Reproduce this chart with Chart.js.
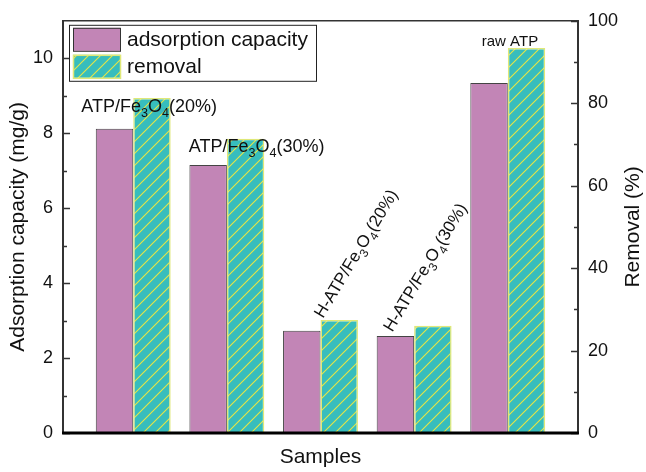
<!DOCTYPE html>
<html>
<head>
<meta charset="utf-8">
<script src="https://cdn.jsdelivr.net/npm/chart.js@4.4.1/dist/chart.umd.min.js"></script>
<style>
html, body { margin: 0; padding: 0; background: #fff; }
</style>
</head>
<body>
<canvas id="chart" width="646" height="472"></canvas>
<script>
const samples = ['ATP/Fe3O4(20%)', 'ATP/Fe3O4(30%)', 'H-ATP/Fe3O4(20%)', 'H-ATP/Fe3O4(30%)', 'raw ATP'];
const positions = [1, 2, 3, 4, 5];
const adsorption = [8.12, 7.15, 2.73, 2.59, 9.34];
const removal = [81.3, 71.4, 27.4, 26.0, 93.4];
const leftTicks = [0, 2, 4, 6, 8, 10];
const leftMinor = [1, 3, 5, 7, 9];
const rightTicks = [0, 20, 40, 60, 80, 100];
const rightMinor = [10, 30, 50, 70, 90];

const FONT = '"Liberation Sans", Arial, sans-serif';
const PURPLE = '#c285b6';
const TEAL = '#37bdbd';
const HATCH = '#e6e646';

const canvas = document.getElementById('chart');
const ctx = canvas.getContext('2d');

const hatch = (() => {
    const c = document.createElement('canvas');
    c.width = 12;
    c.height = 12;
    const g = c.getContext('2d');
    g.fillStyle = TEAL;
    g.fillRect(0, 0, 12, 12);
    g.strokeStyle = HATCH;
    g.lineWidth = 1.1;
    g.beginPath();
    g.moveTo(-2, 14); g.lineTo(14, -2);
    g.moveTo(-8, 8); g.lineTo(8, -8);
    g.moveTo(4, 20); g.lineTo(20, 4);
    g.stroke();
    return ctx.createPattern(c, 'repeat');
})();

// where each sample label sits, relative to the top of its removal bar
const labelLayout = [
    { dx: -52, dy: 14, rot: 0, size: 18 },
    { dx: -38, dy: 13, rot: 0, size: 18 },
    { dx: 2.5, dy: -1, rot: -59, size: 17 },
    { dx: -22, dy: 7, rot: -59, size: 17 },
    { dx: -26, dy: -2, rot: 0, size: 15 }
];

const toParts = label => label.split(/(?<=Fe|O)(\d)/).map((t, i) => [t, i % 2 === 1]);

const drawRich = (g, parts, x, y, size) => {
    let cx = x;
    parts.forEach(([t, sub]) => {
        const s = sub ? size * 0.7 : size;
        g.font = `${s}px ${FONT}`;
        g.fillText(t, cx, y + (sub ? size * 0.3 : 0));
        cx += g.measureText(t).width;
    });
};

const frame = {
    id: 'frame',
    afterDatasetsDraw(chart) {
        const g = chart.ctx;
        const { left, right, top, bottom } = chart.chartArea;
        const y = chart.scales.y;
        const y1 = chart.scales.y1;
        const x = chart.scales.x;
        g.save();

        // ticks, pointing inward
        g.strokeStyle = '#333';
        g.lineWidth = 1.5;
        g.beginPath();
        leftTicks.forEach(v => { const p = Math.round(y.getPixelForValue(v)) + 0.5; g.moveTo(left, p); g.lineTo(left + 7, p); });
        leftMinor.forEach(v => { const p = Math.round(y.getPixelForValue(v)) + 0.5; g.moveTo(left, p); g.lineTo(left + 4, p); });
        rightTicks.forEach(v => { const p = Math.round(y1.getPixelForValue(v)) + 0.5; g.moveTo(right, p); g.lineTo(right - 7, p); });
        rightMinor.forEach(v => { const p = Math.round(y1.getPixelForValue(v)) + 0.5; g.moveTo(right, p); g.lineTo(right - 4, p); });
        g.stroke();

        // frame
        g.lineWidth = 2;
        g.beginPath();
        g.moveTo(left, bottom); g.lineTo(left, top);
        g.moveTo(right, bottom); g.lineTo(right, top);
        g.stroke();
        g.lineWidth = 1.5;
        g.beginPath();
        g.moveTo(left - 1, top); g.lineTo(right + 1, top);
        g.stroke();
        g.strokeStyle = '#000';
        g.lineWidth = 3;
        g.beginPath();
        g.moveTo(left - 1, bottom); g.lineTo(right + 1, bottom);
        g.stroke();

        // sample labels
        g.fillStyle = '#111';
        g.textBaseline = 'alphabetic';
        samples.forEach((name, i) => {
            const l = labelLayout[i];
            const ax = x.getPixelForValue(positions[i]) + l.dx;
            const ay = y1.getPixelForValue(removal[i]) + l.dy;
            g.save();
            g.translate(ax, ay);
            g.rotate(l.rot * Math.PI / 180);
            drawRich(g, toParts(name), 0, 0, l.size);
            g.restore();
        });

        // legend
        const lx = left + 6;
        const ly = top + 4;
        g.fillStyle = '#fff';
        g.fillRect(lx, ly, 247, 56);
        g.strokeStyle = '#222';
        g.lineWidth = 1;
        g.strokeRect(lx + 0.5, ly + 0.5, 247, 56);
        g.fillStyle = PURPLE;
        g.fillRect(lx + 4, ly + 3, 47, 23);
        g.strokeStyle = '#333';
        g.strokeRect(lx + 4.5, ly + 3.5, 47, 23);
        g.fillStyle = hatch;
        g.fillRect(lx + 4, ly + 30, 47, 23);
        g.strokeStyle = '#dfe878';
        g.lineWidth = 1.5;
        g.strokeRect(lx + 4.5, ly + 30.5, 47, 23);
        g.fillStyle = '#111';
        g.font = `21px ${FONT}`;
        g.textBaseline = 'middle';
        g.fillText('adsorption capacity', lx + 58, ly + 15);
        g.fillText('removal', lx + 58, ly + 42);

        // right axis title, reading bottom to top
        g.save();
        g.translate(633, (top + bottom) / 2);
        g.rotate(-Math.PI / 2);
        g.textAlign = 'center';
        g.fillText('Removal (%)', 0, 0);
        g.restore();

        g.restore();
    }
};

new Chart(canvas, {
    type: 'bar',
    data: {
        datasets: [
            {
                label: 'adsorption capacity',
                data: positions.map((p, i) => ({ x: p, y: adsorption[i] })),
                backgroundColor: PURPLE,
                borderColor: '#444',
                borderWidth: 1,
                yAxisID: 'y'
            },
            {
                label: 'removal',
                data: positions.map((p, i) => ({ x: p, y: removal[i] })),
                backgroundColor: hatch,
                borderColor: '#dfe878',
                borderWidth: 1.5,
                yAxisID: 'y1'
            }
        ]
    },
    options: {
        responsive: false,
        animation: false,
        devicePixelRatio: 1,
        categoryPercentage: 0.8,
        barPercentage: 1.0,
        layout: { padding: { top: 18, left: 0, right: 0, bottom: 0 } },
        plugins: {
            legend: { display: false },
            tooltip: { enabled: false }
        },
        scales: {
            x: {
                type: 'linear',
                min: 0.25,
                max: 5.75,
                offset: false,
                afterBuildTicks: s => { s.ticks = positions.map(v => ({ value: v })); },
                grid: { display: false, drawTicks: false },
                border: { display: false },
                ticks: { display: false },
                title: {
                    display: true,
                    text: 'Samples',
                    color: '#111',
                    font: { family: FONT, size: 21 },
                    padding: { top: 0, bottom: 2 }
                },
                afterFit: s => { s.height = 39; }
            },
            y: {
                position: 'left',
                min: 0,
                max: 11,
                afterBuildTicks: s => { s.ticks = leftTicks.map(v => ({ value: v })); },
                grid: { display: false, drawTicks: false },
                border: { display: false },
                ticks: { color: '#111', padding: 10, font: { family: FONT, size: 18 } },
                title: {
                    display: true,
                    text: 'Adsorption capacity (mg/g)',
                    color: '#111',
                    font: { family: FONT, size: 21 },
                    padding: { top: 6, bottom: 0 }
                },
                afterFit: s => { s.width = 63; }
            },
            y1: {
                position: 'right',
                min: 0,
                max: 100,
                afterBuildTicks: s => { s.ticks = rightTicks.map(v => ({ value: v })); },
                grid: { display: false, drawTicks: false },
                border: { display: false },
                ticks: { color: '#111', padding: 10, font: { family: FONT, size: 18 } },
                afterFit: s => { s.width = 68; }
            }
        }
    },
    plugins: [frame]
});
</script>
</body>
</html>
